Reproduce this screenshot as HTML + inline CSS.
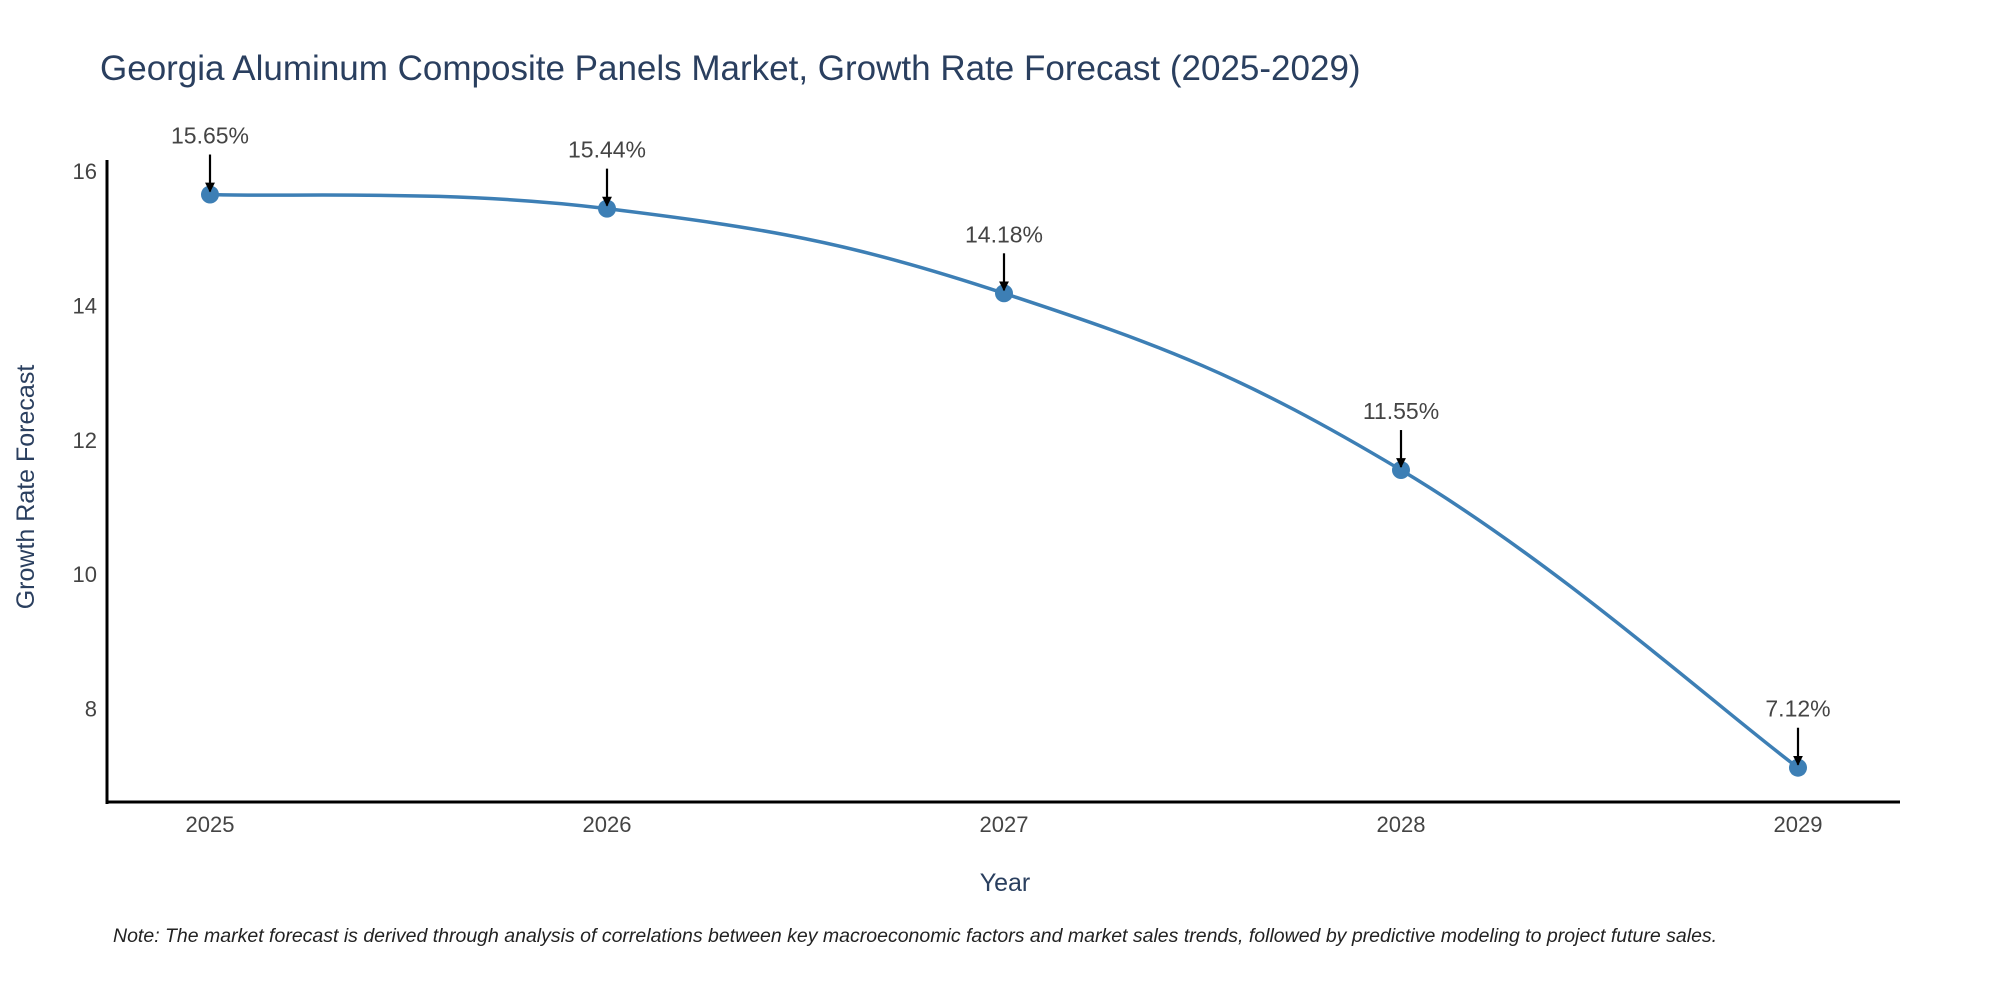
<!DOCTYPE html>
<html><head><meta charset="utf-8"><style>
body{margin:0;background:#fff;}
svg{display:block;font-family:"Liberation Sans",sans-serif;}
</style></head><body>
<svg id="chart" width="2000" height="1000" viewBox="0 0 2000 1000">
<text x="100" y="80" font-size="35" fill="#2a3f5f">Georgia Aluminum Composite Panels Market, Growth Rate Forecast (2025-2029)</text>
<text transform="translate(34,487) rotate(-90)" text-anchor="middle" font-size="25" fill="#2a3f5f">Growth Rate Forecast</text>
<text x="1005" y="891" text-anchor="middle" font-size="25" fill="#2a3f5f">Year</text>
<text x="113" y="942" font-size="19.5" font-style="italic" fill="#222">Note: The market forecast is derived through analysis of correlations between key macroeconomic factors and market sales trends, followed by predictive modeling to project future sales.</text>
<g id="yticks"></g><g id="xticks"></g>
<line x1="107" y1="160" x2="107" y2="804" stroke="#000" stroke-width="3"/>
<line x1="106" y1="802" x2="1900" y2="802" stroke="#000" stroke-width="3"/>
<defs><marker id="ah" viewBox="0 0 10 10" refX="9" refY="5" markerWidth="4.5" markerHeight="4.5" orient="auto"><path d="M0,0 L10,5 L0,10 z" fill="#000"/></marker></defs>
<g id="plot"></g>
</svg>
<script>
const years = [2025, 2026, 2027, 2028, 2029];
const values = [15.65, 15.44, 14.18, 11.55, 7.12];
const labels = ["15.65%", "15.44%", "14.18%", "11.55%", "7.12%"];
const yTicks = [8, 10, 12, 14, 16];

const NS = "http://www.w3.org/2000/svg";
const xScale = y => 210 + (y - 2025) * (1798 - 210) / 4;
const yScale = v => 171 + (16 - v) * 67.2;
function mk(tag, attrs, parent) { const e = document.createElementNS(NS, tag); for (const k in attrs) e.setAttribute(k, attrs[k]); parent.appendChild(e); return e; }

const yt = document.getElementById('yticks');
yTicks.forEach(t => {
  const e = mk('text', {x: 97, y: yScale(t) + 8, 'text-anchor': 'end', 'font-size': 22, fill: '#444'}, yt);
  
  
  e.textContent = t;
});
const xt = document.getElementById('xticks');
years.forEach(y => {
  const e = mk('text', {x: xScale(y), y: 832, 'text-anchor': 'middle', 'font-size': 22, fill: '#444'}, xt);
  
  
  e.textContent = y;
});

const plot = document.getElementById('plot');
const pts = years.map((y, i) => [xScale(y), yScale(values[i])]);
let d = `M${pts[0][0]},${pts[0][1]}`;
const k = 0.2;
for (let i = 0; i < pts.length - 1; i++) {
  const p0 = pts[Math.max(0, i - 1)], p1 = pts[i], p2 = pts[i + 1], p3 = pts[Math.min(pts.length - 1, i + 2)];
  const c1 = [p1[0] + (p2[0] - p0[0]) * k, p1[1] + (p2[1] - p0[1]) * k];
  const c2 = [p2[0] - (p3[0] - p1[0]) * k, p2[1] - (p3[1] - p1[1]) * k];
  d += ` C${c1[0]},${c1[1]} ${c2[0]},${c2[1]} ${p2[0]},${p2[1]}`;
}
const line = mk('path', {d: d, fill: 'none', stroke: '#3d7fb5', 'stroke-width': 3.5}, plot);



pts.forEach((p, i) => {
  const c = mk('circle', {cx: p[0], cy: p[1], r: 9, fill: '#3d7fb5'}, plot);
  
  
  const a = mk('line', {x1: p[0], y1: p[1] - 40, x2: p[0], y2: p[1] - 3, stroke: '#000', 'stroke-width': 2.2, 'marker-end': 'url(#ah)'}, plot);
  
  
  const t = mk('text', {x: p[0], y: p[1] - 51, 'text-anchor': 'middle', 'font-size': 23, fill: '#444'}, plot);
  
  
  t.textContent = labels[i];
});
</script>
</body></html>
